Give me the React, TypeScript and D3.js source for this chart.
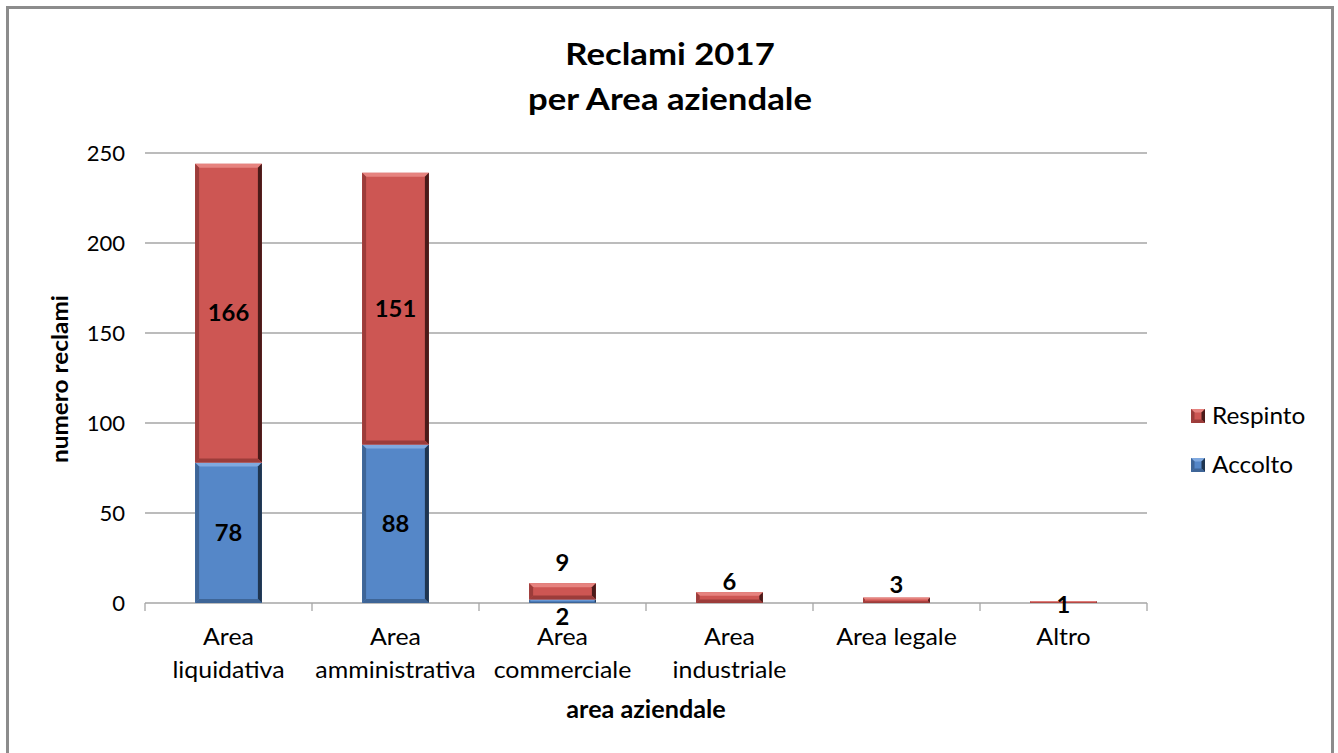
import React from "react";
import * as d3 from "d3";

const categories = [
  ["Area", "liquidativa"],
  ["Area", "amministrativa"],
  ["Area", "commerciale"],
  ["Area", "industriale"],
  ["Area legale"],
  ["Altro"],
];
const accolto = [78, 88, 2, 0, 0, 0];
const respinto = [166, 151, 9, 6, 3, 1];
const yTicks = [0, 50, 100, 150, 200, 250];
const seriesNames = ["Accolto", "Respinto"];
const titleLines = ["Reclami 2017", "per Area aziendale"];
const yTitle = "numero reclami";
const xTitle = "area aziendale";

const W = 1338;
const H = 753;
const FONT = "Lato, 'Open Sans', sans-serif";
const COLORS: Record<string, { main: string; light: string; dark: string; mid: string }> = {
  Accolto: { main: "#5587C8", light: "#80A9DF", dark: "#1F3550", mid: "#3E6597" },
  Respinto: { main: "#CD5653", light: "#E6837F", dark: "#4A1A19", mid: "#9C3C3A" },
};

function T({ x, y, sx = 1, size, bold, anchor = "middle", rotate = 0, children }: any) {
  return (
    <text
      transform={`translate(${x},${y}) rotate(${rotate}) scale(${sx},1)`}
      textAnchor={anchor}
      fontSize={size}
      fontWeight={bold ? "bold" : "normal"}
      fill="#000"
    >
      {children}
    </text>
  );
}

function BevelBar({ x, y, w, h, series }: { x: number; y: number; w: number; h: number; series: string }) {
  const c = COLORS[series];
  if (h <= 0) return null;
  const b = Math.min(4, h / 3, w / 4);
  return (
    <g>
      <rect x={x} y={y} width={w} height={h} fill={c.main} />
      <polygon points={`${x},${y} ${x + w},${y} ${x + w - b},${y + b} ${x + b},${y + b}`} fill={c.light} />
      <polygon points={`${x},${y} ${x + b},${y + b} ${x + b},${y + h - b} ${x},${y + h}`} fill={c.mid} />
      <polygon points={`${x + w},${y} ${x + w - b},${y + b} ${x + w - b},${y + h - b} ${x + w},${y + h}`} fill={c.dark} />
      <polygon points={`${x},${y + h} ${x + b},${y + h - b} ${x + w - b},${y + h - b} ${x + w},${y + h}`} fill={c.mid} />
    </g>
  );
}

export default function App() {
  const left = 145, right = 1147, top = 153, bottom = 603;
  const x = d3.scaleBand<number>().domain(d3.range(categories.length)).range([left, right]).paddingInner(0.6).paddingOuter(0.3);
  const y = d3.scaleLinear().domain([0, 250]).range([bottom, top]);
  const step = x.step();
  const bw = x.bandwidth();
  const outer = (right - left - step * categories.length) / 2;

  const stackData = categories.map((_, i) => ({ Accolto: accolto[i], Respinto: respinto[i] }));
  const stacked = d3.stack<any>().keys(seriesNames)(stackData);

  const labels: { x: number; y: number; text: string }[] = [];
  stacked.forEach((s) => {
    s.forEach((d, i) => {
      const v = d[1] - d[0];
      if (v <= 0) return;
      const cx = x(i)! + bw / 2;
      let cy = (y(d[0]) + y(d[1])) / 2;
      const segH = y(d[0]) - y(d[1]);
      if (segH < 20 && v > 1) {
        if (s.key === "Accolto") cy = bottom + 14;
        else cy = y(d[1]) - (v >= 9 ? 20 : v >= 6 ? 10 : 13);
      } else if (v <= 1) {
        cy = bottom + 2;
      }
      labels.push({ x: cx, y: cy, text: String(v) });
    });
  });

  return (
    <svg width={W} height={H} style={{ position: "absolute", left: 0, top: 0 }} fontFamily={FONT}>
      <rect x={0} y={0} width={W} height={H} fill="#fff" />
      <rect x={7.5} y={7.5} width={1325} height={760} fill="#fff" stroke="#8c8c8c" strokeWidth={3} />

      {titleLines.map((t, i) => (
        <T key={t} x={670} y={65 + i * 45} size={31} bold sx={1.12}>
          {t}
        </T>
      ))}

      {yTicks.map((t) => (
        <line key={t} x1={left} x2={right} y1={y(t)} y2={y(t)} stroke="#a6a6a6" strokeWidth={1.3} />
      ))}
      {yTicks.map((t) => (
        <T key={"l" + t} x={125} y={y(t) + 8} size={21} sx={1.05} anchor="end">
          {t}
        </T>
      ))}

      {d3.range(categories.length + 1).map((i) => {
        const bx = left + outer + i * step;
        return <line key={i} x1={bx} x2={bx} y1={bottom} y2={bottom + 8} stroke="#a6a6a6" strokeWidth={1.3} />;
      })}

      {stacked.map((s) =>
        s.map((d, i) => {
          const y0 = y(d[0]);
          const y1 = y(d[1]);
          return <BevelBar key={s.key + i} x={x(i)!} y={y1} w={bw} h={y0 - y1} series={s.key} />;
        })
      )}

      {labels.map((l, i) => (
        <T key={i} x={l.x} y={l.y + 8} size={22} bold sx={1.08}>
          {l.text}
        </T>
      ))}

      {categories.map((lines, i) =>
        lines.map((ln, j) => (
          <T key={i + "-" + j} x={x(i)! + bw / 2} y={645 + j * 33} size={23.5} sx={1.06}>
            {ln}
          </T>
        ))
      )}

      <T x={646} y={718} size={24} bold sx={1.05}>
        {xTitle}
      </T>
      <T x={68} y={(top + bottom) / 2 + 1} size={23} bold sx={1.06} rotate={-90}>
        {yTitle}
      </T>

      {["Respinto", "Accolto"].map((k, i) => (
        <g key={k} transform={`translate(1191,${409 + i * 49})`}>
          <BevelBar x={0} y={0} w={14} h={14} series={k} />
          <T x={21} y={15} size={23} sx={1.06} anchor="start">
            {k}
          </T>
        </g>
      ))}
    </svg>
  );
}
